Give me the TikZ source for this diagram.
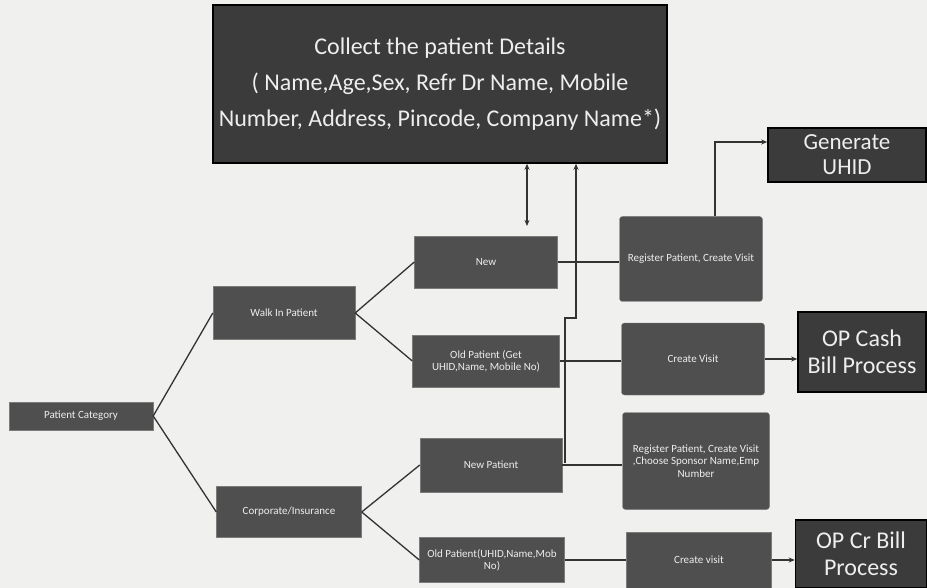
\documentclass[tikz,border=0pt]{standalone}
\usepackage{fontspec}
\setmainfont{Carlito}
\usetikzlibrary{arrows.meta}
\definecolor{boxgray}{HTML}{4F4F4F}
\definecolor{darkbox}{HTML}{3B3B3B}
\definecolor{paper}{HTML}{F0F0EE}
\definecolor{boxtext}{HTML}{EEEEEE}
\tikzset{
  smallbox/.style={fill=boxgray,draw=boxgray!75!white,text=boxtext,align=center,
    inner sep=2pt,font=\fontsize{11}{12.5}\selectfont},
  bigbox/.style={fill=darkbox,draw=black,line width=1.6pt,text=boxtext,align=center,
    inner sep=2pt,font=\fontsize{24}{27}\selectfont},
  link/.style={line width=1.3pt,draw=black!80},
  flow/.style={link,-{Stealth[length=6pt,width=5pt]}},
  both/.style={link,{Stealth[length=6pt,width=5pt]}-{Stealth[length=6pt,width=5pt]}}
}
\begin{document}
\begin{tikzpicture}[x=1pt,y=-1pt]
\fill[paper] (0,0) rectangle (927,588);
\useasboundingbox (0,0) rectangle (927,588);
\node[bigbox,minimum width=454pt,minimum height=158pt,font=\fontsize{24}{36}\selectfont] (details) at (440,84)
  {Collect the patient  Details\\( Name,Age,Sex, Refr Dr Name, Mobile\\Number, Address, Pincode, Company Name*)};
\node[bigbox,minimum width=158pt,minimum height=54pt,font=\fontsize{23}{25}\selectfont] (uhid) at (847,155) {Generate\\UHID};
\node[smallbox,minimum width=144pt,minimum height=28pt] (cat) at (81,416) {Patient Category};
\node[smallbox,minimum width=142pt,minimum height=53pt] (walk) at (284,313) {Walk In Patient};
\node[smallbox,minimum width=145pt,minimum height=51pt] (corp) at (289,512) {Corporate/Insurance};
\node[smallbox,minimum width=143pt,minimum height=52pt] (new) at (486,262) {New};
\node[smallbox,minimum width=147pt,minimum height=52pt] (old) at (486,361) {Old Patient (Get\\UHID,Name, Mobile No)};
\node[smallbox,minimum width=142pt,minimum height=54pt] (newp) at (491,465) {New Patient};
\node[smallbox,minimum width=145pt,minimum height=45pt] (oldp) at (492,560) {Old Patient(UHID,Name,Mob\\No)};
\node[smallbox,rounded corners=3pt,minimum width=143pt,minimum height=85pt] (reg) at (691,259) {Register Patient, Create  Visit};
\node[smallbox,rounded corners=3pt,minimum width=143pt,minimum height=72pt] (visit) at (693,359) {Create Visit};
\node[smallbox,rounded corners=3pt,minimum width=147pt,minimum height=97pt] (regsp) at (696,461)
  {Register Patient, Create Visit\\,Choose Sponsor Name,Emp\\Number};
\node[smallbox,minimum width=145pt,minimum height=56pt] (visitcr) at (699,560) {Create visit};
\node[bigbox,minimum width=128pt,minimum height=80pt] (cash) at (862,352) {OP Cash\\Bill Process};
\node[bigbox,minimum width=131pt,minimum height=68pt] (credit) at (861,554) {OP Cr Bill\\Process};
\coordinate (newtop) at (527,226);
\coordinate (jn) at (565,463);
\coordinate (jog) at (576,318);
\draw[link] (cat.east)--(walk.west);
\draw[link] (cat.east)--(corp.west);
\draw[link] (walk.east)--(new.west);
\draw[link] (walk.east)--(old.west);
\draw[link] (corp.east)--(newp.west);
\draw[link] (corp.east)--(oldp.west);
\draw[link] (new.east)--(new.east-|reg.west);
\draw[link] (old.east)--(old.east-|visit.west);
\draw[link] (newp.east)--(newp.east-|regsp.west);
\draw[link] (oldp.east)--(oldp.east-|visitcr.west);
\draw[flow] (visit.east)--(visit.east-|cash.west);
\draw[flow] (visitcr.east)--(visitcr.east-|credit.west);
\draw[flow] ([xshift=24pt]reg.north)|-([yshift=13pt]uhid.west);
\draw[both] (details.south-|newtop)--(newtop);
\draw[flow] (jn)|-(jog)--(jog|-details.south);
\end{tikzpicture}
\end{document}
